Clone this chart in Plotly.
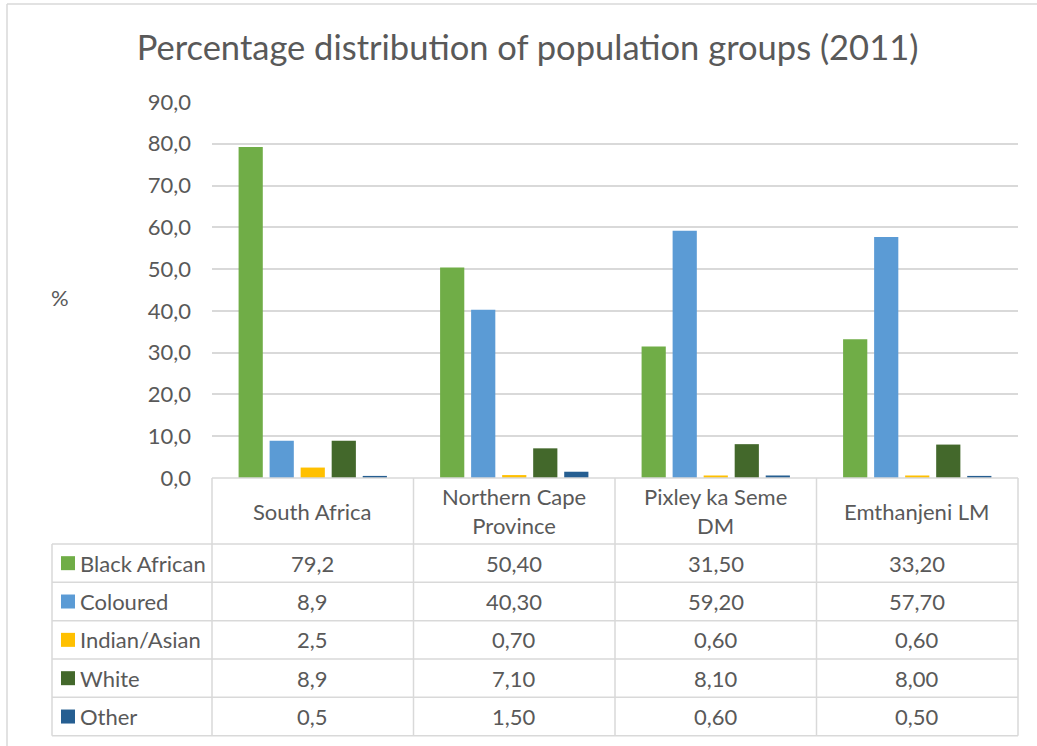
import plotly.graph_objects as go

# ---------------- data ----------------
categories = ["South Africa", "Northern Cape Province", "Pixley ka Seme DM", "Emthanjeni LM"]
header_labels = ["South Africa", "Northern Cape<br>Province", "Pixley ka Seme<br>DM", "Emthanjeni LM"]
decimals = [1, 2, 2, 2]
series_names = ["Black African", "Coloured", "Indian/Asian", "White", "Other"]
black_african = [79.2, 50.40, 31.50, 33.20]
coloured = [8.9, 40.30, 59.20, 57.70]
indian_asian = [2.5, 0.70, 0.60, 0.60]
white = [8.9, 7.10, 8.10, 8.00]
other = [0.5, 1.50, 0.60, 0.50]
series_values = [black_african, coloured, indian_asian, white, other]
colors = ["#70AD47", "#5B9BD5", "#FFC000", "#43682B", "#255E91"]
y_ticks = [0, 10, 20, 30, 40, 50, 60, 70, 80, 90]
y_tick_labels = ["0,0", "10,0", "20,0", "30,0", "40,0", "50,0", "60,0", "70,0", "80,0", "90,0"]

# ---------------- layout geometry (pixels) ----------------
FW, FH = 1037, 746
L, R, T, B = 212, 19, 102, 268
W = FW - L - R
H = FH - T - B
BOTTOM_PX = FH - B

def px2x(px):
    return (px - L) / W

def py2y(py):
    return (BOTTOM_PX - py) / H

TXT = "#595959"
GRID = "#D9D9D9"
FONT = "Lato"
FS = 22

fig = go.Figure()
for name, vals, col in zip(series_names, series_values, colors):
    fig.add_trace(go.Bar(x=categories, y=vals, name=name, marker=dict(color=col, line=dict(width=0))))

shapes = []
annotations = []

# chart frame (top and left edges; the rest lies outside the picture)
frame_style = dict(color=GRID, width=1.5)
shapes.append(dict(type="line", xref="paper", yref="paper",
                   x0=px2x(7), x1=px2x(FW), y0=py2y(4), y1=py2y(4), line=frame_style, layer="below"))
shapes.append(dict(type="line", xref="paper", yref="paper",
                   x0=px2x(7), x1=px2x(7), y0=py2y(4), y1=py2y(FH), line=frame_style, layer="below"))

# table geometry
header_top = BOTTOM_PX
header_bot = 544
row_h = (735.7 - 544) / 5
row_edges = [header_bot + i * row_h for i in range(6)]
n_cat = len(categories)
col_edges = [i / n_cat for i in range(n_cat + 1)]  # paper x of category boundaries
legend_left = px2x(52)

line_style = dict(color=GRID, width=1.5)
shapes.append(dict(type="line", xref="paper", yref="paper", x0=0, x1=1,
                   y0=py2y(header_top), y1=py2y(header_top), line=line_style))
for ry in row_edges:
    shapes.append(dict(type="line", xref="paper", yref="paper", x0=legend_left, x1=1,
                       y0=py2y(ry), y1=py2y(ry), line=line_style))
for cx in col_edges:
    shapes.append(dict(type="line", xref="paper", yref="paper", x0=cx, x1=cx,
                       y0=py2y(header_top), y1=py2y(row_edges[-1]), line=line_style))
shapes.append(dict(type="line", xref="paper", yref="paper", x0=legend_left, x1=legend_left,
                   y0=py2y(header_bot), y1=py2y(row_edges[-1]), line=line_style))

# header labels
for i, lab in enumerate(header_labels):
    annotations.append(dict(xref="paper", yref="paper",
                            x=(col_edges[i] + col_edges[i + 1]) / 2,
                            y=py2y((header_top + header_bot) / 2),
                            text=lab, showarrow=False, xanchor="center", yanchor="middle",
                            font=dict(family=FONT, size=FS, color=TXT)))

# rows
for r, (name, vals, col) in enumerate(zip(series_names, series_values, colors)):
    cy = (row_edges[r] + row_edges[r + 1]) / 2
    shapes.append(dict(type="rect", xref="paper", yref="paper",
                       x0=px2x(61), x1=px2x(75), y0=py2y(cy + 7), y1=py2y(cy - 7),
                       fillcolor=col, line=dict(width=0)))
    annotations.append(dict(xref="paper", yref="paper", x=px2x(78), y=py2y(cy),
                            text=name, showarrow=False, xanchor="left", yanchor="middle",
                            font=dict(family=FONT, size=FS, color=TXT)))
    for i, v in enumerate(vals):
        s = f"{v:.{decimals[i]}f}".replace(".", ",")
        annotations.append(dict(xref="paper", yref="paper",
                                x=(col_edges[i] + col_edges[i + 1]) / 2, y=py2y(cy),
                                text=s, showarrow=False, xanchor="center", yanchor="middle",
                                font=dict(family=FONT, size=FS, color=TXT)))

# % axis title
annotations.append(dict(xref="paper", yref="paper", x=px2x(60), y=py2y(297),
                        text="%", showarrow=False, xanchor="center", yanchor="middle",
                        font=dict(family=FONT, size=FS, color=TXT)))

fig.update_layout(
    width=FW, height=FH,
    margin=dict(l=L, r=R, t=T, b=B, pad=0),
    paper_bgcolor="white", plot_bgcolor="white",
    title=dict(text="Percentage distribution of population groups (2011)",
               x=527.5 / FW, xref="container", xanchor="center", y=1 - 48 / FH, yref="container",
               yanchor="middle",
               font=dict(family=FONT, size=34.5, color=TXT)),
    showlegend=False,
    barmode="group", bargap=0.23, bargroupgap=0.22,
    xaxis=dict(showticklabels=False, showgrid=False, zeroline=False, showline=False, ticks=""),
    yaxis=dict(range=[0, 90], tickvals=y_ticks, ticktext=y_tick_labels,
               showgrid=True, gridcolor=GRID, gridwidth=1.5, zeroline=False, showline=False,
               ticks="", ticklabelstandoff=20,
               tickfont=dict(family=FONT, size=FS, color=TXT)),
    shapes=shapes, annotations=annotations,
    font=dict(family=FONT, color=TXT),
)

fig.write_html("out.html", config={"displayModeBar": False},
               post_script="document.body.style.margin='0';document.body.style.overflow='hidden';")
